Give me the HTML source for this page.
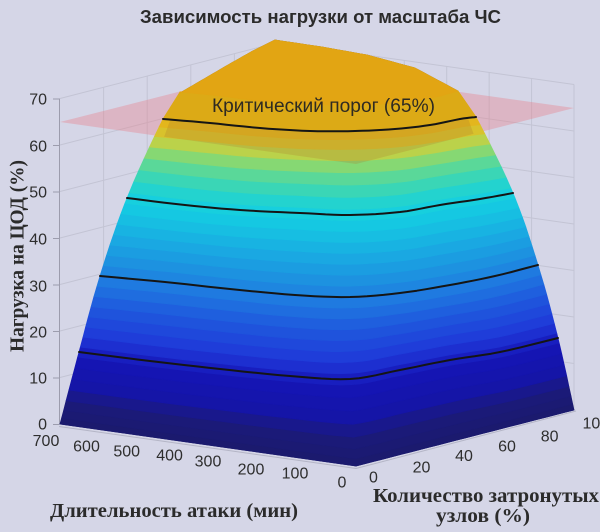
<!DOCTYPE html>
<html><head><meta charset="utf-8">
<style>
html,body{margin:0;padding:0;background:#d5d6e7;}
svg{display:block;}
</style></head>
<body>
<svg id="s" width="600" height="532" viewBox="0 0 600 532" xmlns="http://www.w3.org/2000/svg">
<defs><clipPath id="sc"><polygon id="scp" points="0,0"/></clipPath></defs>
<rect width="600" height="532" fill="#d5d6e7"/>
<g id="grid" stroke="#c3c4d4" stroke-width="1" fill="none"></g>
<g id="axis" stroke="#9c9cad" stroke-width="1" fill="none">
  <line x1="59.5" y1="98.5" x2="59.5" y2="424.5"/>
</g>
<g id="plane"></g>
<g id="surf"></g>
<g id="tint" clip-path="url(#sc)"></g>
<g id="top"></g>
<g id="cont" fill="none" stroke="#151515" stroke-width="2" stroke-linejoin="round" stroke-linecap="round"></g>
<g font-family="Liberation Sans, DejaVu Sans, sans-serif" font-size="16" fill="#2e2e2e">
  <text x="47" y="104.7" text-anchor="end">70</text>
  <text x="47" y="151.7" text-anchor="end">60</text>
  <text x="47" y="197.7" text-anchor="end">50</text>
  <text x="47" y="244.7" text-anchor="end">40</text>
  <text x="47" y="291.7" text-anchor="end">30</text>
  <text x="47" y="337.7" text-anchor="end">20</text>
  <text x="47" y="383.7" text-anchor="end">10</text>
  <text x="47" y="429.7" text-anchor="end">0</text>
  <text x="46" y="446.2" text-anchor="middle">700</text>
  <text x="86.5" y="451.7" text-anchor="middle">600</text>
  <text x="126.7" y="456.7" text-anchor="middle">500</text>
  <text x="169.6" y="460.7" text-anchor="middle">400</text>
  <text x="208" y="466.7" text-anchor="middle">300</text>
  <text x="251" y="474.7" text-anchor="middle">200</text>
  <text x="295" y="478.7" text-anchor="middle">100</text>
  <text x="342" y="487.4" text-anchor="middle">0</text>
  <text x="373.5" y="482.4" text-anchor="middle">0</text>
  <text x="421.5" y="472.7" text-anchor="middle">20</text>
  <text x="464" y="461.2" text-anchor="middle">40</text>
  <text x="507" y="451.7" text-anchor="middle">60</text>
  <text x="549.6" y="441.7" text-anchor="middle">80</text>
  <text x="582.5" y="428.7">100</text>
</g>
<text x="320.5" y="23" text-anchor="middle" font-family="Liberation Sans, DejaVu Sans, sans-serif" font-weight="bold" font-size="18" fill="#2b2b2b" textLength="361" lengthAdjust="spacingAndGlyphs">Зависимость нагрузки от масштаба ЧС</text>
<text transform="translate(23.5,256) rotate(-90)" text-anchor="middle" font-family="Liberation Serif, DejaVu Serif, serif" font-weight="bold" font-size="20" fill="#2b2b2b" textLength="192" lengthAdjust="spacingAndGlyphs">Нагрузка на ЦОД (%)</text>
<text x="50" y="517" font-family="Liberation Serif, DejaVu Serif, serif" font-weight="bold" font-size="20" fill="#2b2b2b" textLength="248" lengthAdjust="spacingAndGlyphs">Длительность атаки (мин)</text>
<text x="373" y="502" font-family="Liberation Serif, DejaVu Serif, serif" font-weight="bold" font-size="20" fill="#2b2b2b" textLength="226" lengthAdjust="spacingAndGlyphs">Количество затронутых</text>
<text x="436" y="522" font-family="Liberation Serif, DejaVu Serif, serif" font-weight="bold" font-size="20" fill="#2b2b2b" textLength="94" lengthAdjust="spacingAndGlyphs">узлов (%)</text>
<text id="crit" x="212" y="112" font-family="Liberation Sans, DejaVu Sans, sans-serif" font-size="19" fill="#2e2a22" textLength="223" lengthAdjust="spacingAndGlyphs">Критический порог (65%)</text>
</svg>
<script>
(function(){
const NS='http://www.w3.org/2000/svg';
function el(tag,attrs,parent){const e=document.createElementNS(NS,tag);for(const k in attrs)e.setAttribute(k,attrs[k]);parent.appendChild(e);return e;}
const grid=document.getElementById('grid');
for(let k=0;k<=7;k++){const dy=46.5*k;
  el('line',{x1:60,y1:424-dy,x2:278,y2:368-dy},grid);
  el('line',{x1:278,y1:368-dy,x2:574,y2:410-dy},grid);}
for(let j=1;j<=5;j++){const x=60+43.6*j,yb=424-11.2*j;el('line',{x1:x,y1:yb,x2:x,y2:yb-325.5},grid);}
for(let i=0;i<7;i++){const x=574-42.43*i,yb=410-6*i;el('line',{x1:x,y1:yb,x2:x,y2:yb-325.5},grid);}
const axis=document.getElementById('axis');
for(let k=0;k<=7;k++){const y=424.5-46.5*k;el('line',{x1:53,y1:y,x2:59.5,y2:y},axis);}

const L=[0,15,30,45,60,65,70];
const P=[
 [[60,424],[134,434.5],[208,445],[282,455.5],[356,466],[410.5,452],[465,438],[519.5,424],[574,410]],
 [[79,352],[150,361],[220,369],[290,376],[350,379],[400,370],[450,360],[500,352],[558,338]],
 [[100,276],[165,282],[230,289],[295,295],[350,297],[400,293],[450,285],[495,276],[538,265]],
 [[127,198],[185,205],[240,210],[300,213],[350,215],[400,212],[440,205],[480,199],[513,193]],
 [[163,119],[210,123],[260,128],[310,131],[355,131],[395,129],[430,125],[460,119],[476,117]],
 [[180,92],[220,96],[260,101],[300,104],[345,105],[385,104],[415,101],[440,96],[458,91]],
 [[180,93],[204,79],[228,65],[251,52],[275,40],[322,47],[367,55],[415,68],[458,91]]
];
function crp(p0,p1,p2,p3,t){const t2=t*t,t3=t2*t;const q=[];
 for(let d=0;d<2;d++){q.push(0.5*((2*p1[d])+(-p0[d]+p2[d])*t+(2*p0[d]-5*p1[d]+4*p2[d]-p3[d])*t2+(-p0[d]+3*p1[d]-3*p2[d]+p3[d])*t3));}
 return q;}
function cr(pts,n){const out=[];
 for(let i=0;i<pts.length-1;i++){
  const p0=pts[Math.max(i-1,0)],p1=pts[i],p2=pts[i+1],p3=pts[Math.min(i+2,pts.length-1)];
  for(let s=0;s<n;s++){out.push(crp(p0,p1,p2,p3,s/n));}
 }
 out.push(pts[pts.length-1]);return out;}
function lin(pts,n){const out=[];for(let i=0;i<pts.length-1;i++){for(let s=0;s<n;s++){const t=s/n;out.push([pts[i][0]+(pts[i+1][0]-pts[i][0])*t,pts[i][1]+(pts[i+1][1]-pts[i][1])*t]);}}out.push(pts[pts.length-1]);return out;}
const F=P.map((p,i)=>(i==0||i==6)?lin(p,6):cr(p,6));
function curveAt(z){let i=0;while(i<L.length-2&&z>L[i+1])i++;const f=(z-L[i])/(L[i+1]-L[i]);
 if(i<4){
   const a=F[Math.max(i-1,0)],b=F[i],c=F[i+1],d=F[Math.min(i+2,F.length-1)];
   return b.map((p,k)=>{
     if(f<=0)return p; if(f>=1)return c[k];
     return crp(a[k],p,c[k],d[k],f);});
 }
 return F[i].map((p,k)=>[p[0]+(F[i+1][k][0]-p[0])*f,p[1]+(F[i+1][k][1]-p[1])*f]);}
function ptsStr(a){return a.map(p=>p[0].toFixed(1)+','+p[1].toFixed(1)).join(' ');}
function band(z1,z2,col,parent){const a=curveAt(z1),b=curveAt(z2).reverse();
 el('polygon',{points:ptsStr(a.concat(b)),fill:col,stroke:col,'stroke-width':0.7,'stroke-linejoin':'round'},parent);}
const K=[[0,'#1b1a6c'],[6,'#1b1a7a'],[8.5,'#1515a6'],[14,'#1515b6'],[18,'#1f38d8'],[24,'#1f58dd'],[28,'#1f74e0'],[33,'#1d92e0'],[38,'#19aee2'],[43,'#15c8e2'],[46,'#18d2dc'],[49,'#3ad6b6'],[51.5,'#62d892'],[53.5,'#92d868'],[55.5,'#c8d040'],[58,'#e2b81e'],[60,'#e4b41c']];
function hex(c){return [parseInt(c.slice(1,3),16),parseInt(c.slice(3,5),16),parseInt(c.slice(5,7),16)];}
function cmap(z){for(let i=0;i<K.length-1;i++){if(z<=K[i+1][0]){const f=(z-K[i][0])/(K[i+1][0]-K[i][0]);const a=hex(K[i][1]),b=hex(K[i+1][1]);return 'rgb('+a.map((v,j)=>Math.round(v+(b[j]-v)*f)).join(',')+')';}}return K[K.length-1][1];}
const plane=document.getElementById('plane');
const planePts='60,122 278,66.5 574,108 356,164';
el('polygon',{points:planePts,fill:'rgb(232,128,140)','fill-opacity':0.38},plane);
const surf=document.getElementById('surf');
band(0,70,'#1b1a6c',surf);
for(let z=0;z<60;z+=2){band(z,z+2,cmap(z+1),surf);}
band(60,65,'#e3ad18',surf);band(65,70,'#e2a513',surf);
el('polyline',{points:'59,426.5 356,468.5 576,411',fill:'none',stroke:'#b4b5c6','stroke-width':1},surf);
const outline=curveAt(0).concat(curveAt(70).reverse());
document.getElementById('scp').setAttribute('points',ptsStr(outline));
const tint=document.getElementById('tint');
el('polygon',{points:planePts,fill:'rgb(175,125,45)','fill-opacity':0.27},tint);
const top=document.getElementById('top');
band(60,65,'#dcaa16',top);band(65,70,'#e2a513',top);
const cont=document.getElementById('cont');
[15,30,45,60].forEach(z=>{el('polyline',{points:ptsStr(curveAt(z))},cont);});
})();
</script>
</body></html>
